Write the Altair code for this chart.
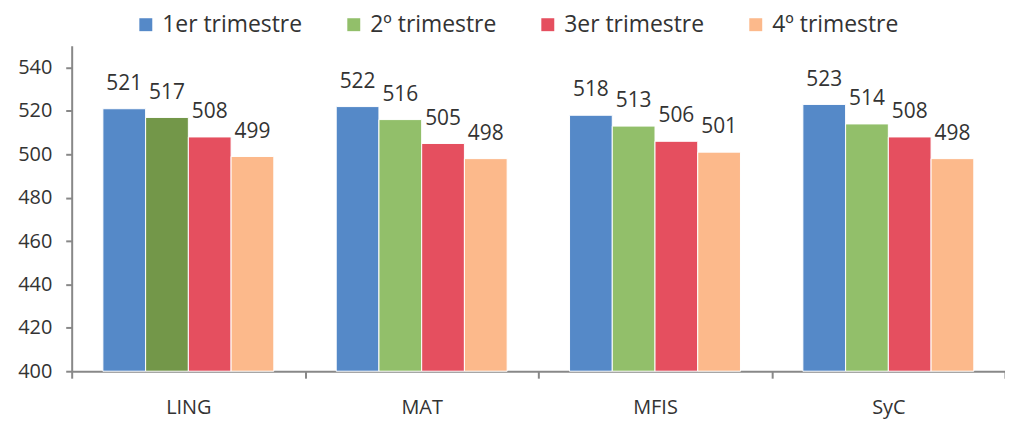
import altair as alt
import pandas as pd

categories = ["LING", "MAT", "MFIS", "SyC"]
series = ["1er trimestre", "2º trimestre", "3er trimestre", "4º trimestre"]
values_q1 = [521, 522, 518, 523]
values_q2 = [517, 516, 513, 514]
values_q3 = [508, 505, 506, 508]
values_q4 = [499, 498, 501, 498]
colors = ["#5589C8", "#92BF6A", "#E54F5F", "#FCB98B"]
highlight_color = "#739749"
highlight_cat = "LING"
highlight_serie = "2º trimestre"
y_ticks = [400, 420, 440, 460, 480, 500, 520, 540]

rows = []
for s, vals in zip(series, [values_q1, values_q2, values_q3, values_q4]):
    for c, v in zip(categories, vals):
        rows.append({"area": c, "serie": s, "valor": v})
df = pd.DataFrame(rows)

FONT = "Open Sans"
TXT = "#333333"
AX = "#888888"

x_enc = alt.X(
    "area:N", sort=categories,
    scale=alt.Scale(paddingInner=0, paddingOuter=0),
    axis=alt.Axis(title=None, labelAngle=0, tickBand="extent", tickSize=7,
                  domainColor=AX, domainWidth=2, tickColor=AX, tickWidth=2,
                  labelFont=FONT, labelFontSize=20, labelColor=TXT, labelPadding=20),
)
xo_enc = alt.XOffset("serie:N", sort=series,
                     scale=alt.Scale(paddingInner=0, paddingOuter=0.73))
y_enc = alt.Y(
    "valor:Q",
    scale=alt.Scale(domain=[400, 550], zero=False, nice=False),
    axis=alt.Axis(title=None, values=y_ticks, grid=False, tickSize=6,
                  domainColor=AX, domainWidth=2, tickColor=AX, tickWidth=2,
                  labelFont=FONT, labelFontSize=20, labelColor=TXT, labelPadding=14),
)

base = alt.Chart(df)

bars = base.mark_bar(stroke="white", strokeWidth=1).encode(
    x=x_enc,
    xOffset=xo_enc,
    y=y_enc,
    y2=alt.datum(400),
    color=alt.condition(
        (alt.datum.area == highlight_cat) & (alt.datum.serie == highlight_serie),
        alt.value(highlight_color),
        alt.Color("serie:N", sort=series,
                  scale=alt.Scale(domain=series, range=colors),
                  legend=alt.Legend(title=None, orient="none", legendX=63, legendY=-33,
                                    direction="horizontal", symbolType="square",
                                    symbolSize=169, symbolStrokeWidth=0,
                                    labelFont=FONT, labelFontSize=23, labelColor=TXT,
                                    labelLimit=400, labelOffset=5, columnPadding=40)),
    ),
)

labels = base.mark_text(baseline="alphabetic", dy=-19, font=FONT, fontSize=21, color=TXT).encode(
    x=alt.X("area:N", sort=categories),
    xOffset=alt.XOffset("serie:N", sort=series),
    y=alt.Y("valor:Q"),
    text=alt.Text("valor:Q"),
)

chart = alt.layer(bars, labels).properties(
    width=938, height=327,
    padding={"left": 64, "top": 37, "right": 0, "bottom": 48},
    autosize="none",
).configure_view(stroke=None)

chart.save("out.html", embed_options={"renderer": "svg", "actions": False})
